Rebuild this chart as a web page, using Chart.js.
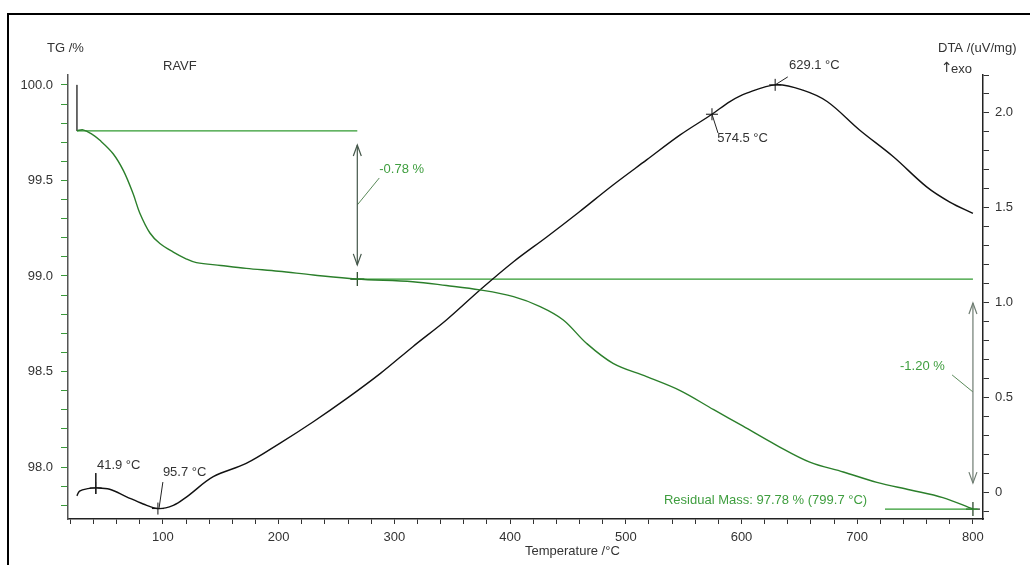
<!DOCTYPE html>
<html>
<head>
<meta charset="utf-8">
<script src="https://cdn.jsdelivr.net/npm/chart.js@4/dist/chart.umd.min.js"></script>
<style>
  html, body { margin: 0; padding: 0; background: #fff; }
  #wrap { width: 1030px; height: 565px; }
</style>
</head>
<body>
<div id="wrap"><canvas id="c" width="1030" height="565"></canvas></div>
<script>
// TG curve (mass %)
const tgTemp = [25.7, 31, 38, 45.6, 57, 66, 74.3, 80, 88.8, 97.4, 109, 120, 129, 150, 172, 200, 230, 267,
    316, 345, 374, 403, 426, 446, 466, 489, 518, 547, 576, 601, 630, 659, 688, 717, 746, 774, 800];
const tgMass = [99.76, 99.765, 99.745, 99.71, 99.64, 99.55, 99.43, 99.33, 99.225, 99.17, 99.125, 99.09, 99.07, 99.055, 99.04, 99.025, 99.005, 98.984,
    98.97, 98.95, 98.927, 98.892, 98.84, 98.77, 98.648, 98.543, 98.473, 98.40, 98.30, 98.215, 98.115, 98.026, 97.974, 97.92, 97.88, 97.84, 97.78];

// DTA curve (uV/mg)
const dtaTemp = [25.7, 28, 35, 43, 54, 68.6, 83, 95.7, 109, 120.6, 143.5, 172, 201, 230, 259, 288, 316, 345, 374, 403,
    432, 460, 489, 518, 547, 574.5, 590, 604.5, 630, 653, 674, 702, 731, 760, 780, 800];
const dtaVal = [-0.02, 0.005, 0.018, 0.022, 0.015, -0.025, -0.063, -0.087, -0.07, -0.025, 0.081, 0.151, 0.257, 0.371, 0.494, 0.626, 0.767, 0.908, 1.066, 1.215,
    1.347, 1.479, 1.62, 1.752, 1.884, 1.993, 2.06, 2.104, 2.148, 2.12, 2.06, 1.91, 1.77, 1.61, 1.53, 1.47];

// evaluation points
const dtaPeakTemp = [41.9, 95.7, 574.5, 629.1];
const dtaPeakVal = [0.022, -0.087, 1.993, 2.148];
const tgStepTemp = [268, 800];
const tgStepMass = [98.984, 97.78];
const tgLevels = [99.76, 98.984, 97.78];
const tgSteps = ['-0.78 %', '-1.20 %'];

// axis ticks
const xTicks = [100, 200, 300, 400, 500, 600, 700, 800];
const tgTicks = [98.0, 98.5, 99.0, 99.5, 100.0];
const dtaTicks = [0, 0.5, 1.0, 1.5, 2.0];

const GREEN = '#2f9a2f';
const TGREEN = '#3f9e3f';
const FONT = '13px "Liberation Sans", Arial, sans-serif';

const pts = (xs, ys) => xs.map((x, i) => ({ x: x, y: ys[i] }));
const near = (v, list) => list.some(t => Math.abs(v - t) < 1e-6);

function seg(data, axis, color, width) {
    return { data: data, yAxisID: axis, borderColor: color, borderWidth: width || 1,
        pointRadius: 0, fill: false, tension: 0, showLine: true };
}

const datasets = [
    Object.assign(seg(pts(tgTemp, tgMass), 'y', '#2b7f2b', 1.4), { tension: 0.35 }),
    Object.assign(seg(pts(dtaTemp, dtaVal), 'y2', '#111', 1.4), { tension: 0.35 }),
    seg([{ x: 25.7, y: 100.0 }, { x: 25.7, y: tgLevels[0] }], 'y', '#555', 1),
    seg([{ x: 25.7, y: tgLevels[0] }, { x: 268, y: tgLevels[0] }], 'y', GREEN, 1.3),
    seg([{ x: 268, y: tgLevels[1] }, { x: 800, y: tgLevels[1] }], 'y', GREEN, 1.3),
    seg([{ x: 724, y: tgLevels[2] }, { x: 804, y: tgLevels[2] }], 'y', GREEN, 1.3),
    // double arrows (index 6, 7)
    seg([{ x: 268, y: 99.686 }, { x: 268, y: 99.058 }], 'y', '#44574a', 1.2),
    seg([{ x: 800, y: 98.859 }, { x: 800, y: 97.916 }], 'y', '#6f7d72', 1.2),
    // leaders
    seg([{ x: 268, y: 99.372 }, { x: 287, y: 99.513 }], 'y', '#5a8a5a', 1),
    seg([{ x: 782, y: 98.482 }, { x: 800, y: 98.393 }], 'y', '#5a8a5a', 1),
    seg([{ x: 42, y: 0.10 }, { x: 42, y: -0.01 }], 'y2', '#222', 1),
    seg([{ x: 100, y: 0.053 }, { x: 96.7, y: -0.084 }], 'y2', '#222', 1),
    seg([{ x: 574.5, y: 1.993 }, { x: 579.7, y: 1.894 }], 'y2', '#222', 1),
    seg([{ x: 640, y: 2.19 }, { x: 629.1, y: 2.148 }], 'y2', '#222', 1),
    { data: pts(dtaPeakTemp, dtaPeakVal), yAxisID: 'y2', showLine: false, pointStyle: 'cross',
      pointRadius: 6, borderColor: '#111', borderWidth: 1 },
    { data: pts(tgStepTemp, tgStepMass), yAxisID: 'y', showLine: false, pointStyle: 'cross',
      pointRadius: 7, borderColor: '#1d3d1d', borderWidth: 1.2 }
];

// text placed at data coordinates
const notes = [
    { t: '41.9 °C', x: 43, y: 0.142, ax: 'y2', c: '#333' },
    { t: '95.7 °C', x: 100, y: 0.105, ax: 'y2', c: '#333' },
    { t: '574.5 °C', x: 579, y: 1.868, ax: 'y2', c: '#333' },
    { t: '629.1 °C', x: 641, y: 2.248, ax: 'y2', c: '#333' },
    { t: tgSteps[0], x: 287, y: 99.56, ax: 'y', c: TGREEN },
    { t: tgSteps[1], x: 737, y: 98.529, ax: 'y', c: TGREEN },
    { t: 'Residual Mass: 97.78 % (799.7 °C)', x: 533, y: 97.825, ax: 'y', c: TGREEN }
];

const decor = {
    id: 'decor',
    afterDraw(chart) {
        const ctx = chart.ctx;
        const sx = chart.scales.x;
        ctx.save();
        // frame
        ctx.strokeStyle = '#000';
        ctx.lineWidth = 2;
        ctx.beginPath();
        ctx.moveTo(8, 565); ctx.lineTo(8, 14); ctx.lineTo(1030, 14);
        ctx.stroke();

        // arrow heads
        [6, 7].forEach(i => {
            const p = chart.getDatasetMeta(i).data;
            ctx.strokeStyle = chart.data.datasets[i].borderColor;
            ctx.lineWidth = 1.2;
            [[p[0], 1], [p[1], -1]].forEach(([q, d]) => {
                ctx.beginPath();
                ctx.moveTo(q.x - 4, q.y + d * 11);
                ctx.lineTo(q.x, q.y);
                ctx.lineTo(q.x + 4, q.y + d * 11);
                ctx.stroke();
            });
        });

        ctx.font = FONT;
        ctx.textBaseline = 'middle';
        ctx.textAlign = 'left';
        notes.forEach(n => {
            ctx.fillStyle = n.c;
            ctx.fillText(n.t, sx.getPixelForValue(n.x), chart.scales[n.ax].getPixelForValue(n.y));
        });

        ctx.fillStyle = '#333';
        ctx.fillText('TG /%', 47, 48);
        ctx.fillText('RAVF', 163, 66);
        ctx.fillText('DTA /(uV/mg)', 938, 48);
        ctx.fillText('exo', 951, 69);
        ctx.fillText('Temperature /°C', 525, 551);
        ctx.font = '14px "DejaVu Sans", sans-serif';
        ctx.fillText('\u2191', 941, 68);
        ctx.restore();
    }
};

new Chart(document.getElementById('c'), {
    type: 'scatter',
    data: { datasets: datasets },
    options: {
        responsive: false,
        animation: false,
        layout: { padding: { top: 75, left: 0, right: 0, bottom: 0 } },
        plugins: { legend: { display: false }, tooltip: { enabled: false } },
        scales: {
            x: {
                type: 'linear', position: 'bottom', min: 18, max: 808.7,
                afterFit: s => { s.height = 46; },
                border: { color: '#222', width: 1.5 },
                grid: { drawOnChartArea: false, tickLength: 5, tickColor: '#333' },
                ticks: {
                    stepSize: 20, includeBounds: false, autoSkip: false, maxRotation: 0, padding: 6,
                    color: '#333', font: { family: '"Liberation Sans", Arial', size: 13 },
                    callback: v => near(v, xTicks) ? Math.round(v) : ''
                }
            },
            y: {
                position: 'left', min: 97.728, max: 100.052,
                afterFit: s => { s.width = 68; },
                border: { color: '#555', width: 1.5 },
                grid: { drawOnChartArea: false, tickLength: 7, tickColor: '#3a9a3a' },
                ticks: {
                    stepSize: 0.1, includeBounds: false, autoSkip: false, padding: 8,
                    color: '#333', font: { family: '"Liberation Sans", Arial', size: 13 },
                    callback: v => near(v, tgTicks) ? v.toFixed(1) : ''
                }
            },
            y2: {
                position: 'right', min: -0.142, max: 2.2,
                afterFit: s => { s.width = 47; },
                border: { color: '#222', width: 1.5 },
                grid: { drawOnChartArea: false, tickLength: 6, tickColor: '#333' },
                ticks: {
                    stepSize: 0.1, includeBounds: false, autoSkip: false, padding: 6,
                    color: '#333', font: { family: '"Liberation Sans", Arial', size: 13 },
                    callback: v => near(v, dtaTicks) ? (Math.abs(v) < 1e-6 ? '0' : v.toFixed(1)) : ''
                }
            }
        }
    },
    plugins: [decor]
});
</script>
</body>
</html>
